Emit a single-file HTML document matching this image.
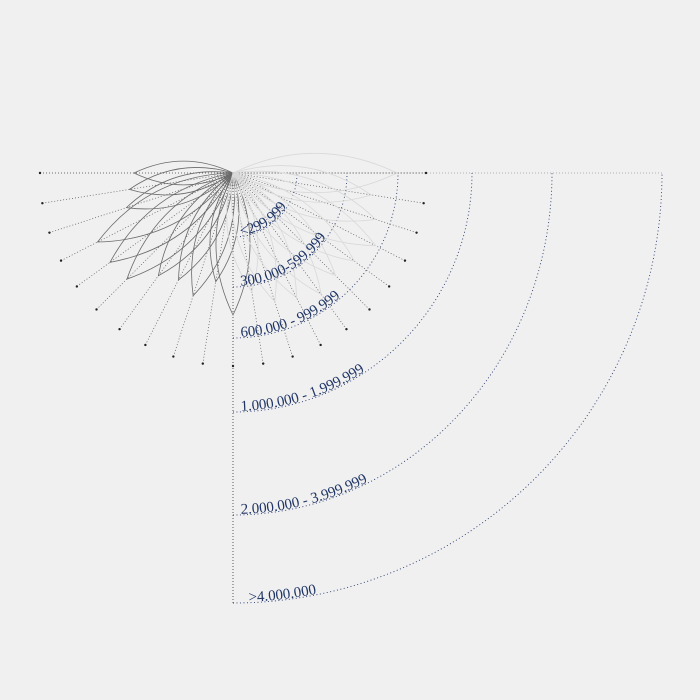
<!DOCTYPE html>
<html><head><meta charset="utf-8"><style>
html,body{margin:0;padding:0;background:#f0f0f0}
svg{display:block}
text{font-family:"Liberation Serif",serif;font-size:15px;fill:#1f3566}
</style></head><body>
<svg id="chart" width="700" height="700" viewBox="0 0 700 700">
<rect width="700" height="700" fill="#f0f0f0"/>
<g id="grid"></g><g id="spokes"></g><g id="petals"></g><g id="labels"></g>
</svg>
<script>
const bandLabels = ["<299.999","300.000-599.999","600.000 - 999.999","1.000.000 - 1.999.999","2.000.000 - 3.999.999",">4.000.000"];
const bandRadiiX = [64,114,165,239,319,429];
const bandRadiiY = [64,114,165,239,342,430];
const petalValues = [99,105,112,152,152,150,127,120,129,110,142,120,135,140,150,145,150,160,150,140,164];
const petalDark = [1,1,1,1,1,1,1,1,1,1,1,0,0,0,0,0,0,0,0,0,0];
const spokeLen = 193;

const NS="http://www.w3.org/2000/svg";
const cx=233, cy=173;
function el(t,a,p){const e=document.createElementNS(NS,t);for(const k in a)e.setAttribute(k,a[k]);p.appendChild(e);return e;}
function ang(i){return Math.PI - i*Math.PI/(petalValues.length-1);}
function pt(i,r){const a=ang(i);return [cx+r*Math.cos(a), cy+r*Math.sin(a)];}

const grid=document.getElementById('grid');
let h=el('line',{x1:40,y1:cy,x2:cx+bandRadiiX[bandRadiiX.length-1]+1,y2:cy,stroke:'#999','stroke-width':0.8,'stroke-dasharray':'1 2'},grid);


let v=el('line',{x1:cx,y1:cy,x2:cx,y2:cy+bandRadiiY[bandRadiiY.length-1]+1,stroke:'#333','stroke-width':0.8,'stroke-dasharray':'1 2'},grid);



const labels=document.getElementById('labels');
bandRadiiX.forEach((rx,i)=>{
  const ry=bandRadiiY[i];
  const d=`M ${cx} ${cy+ry} A ${rx} ${ry} 0 0 0 ${cx+rx} ${cy}`;
  const a=el('path',{id:'arc'+i,d:d,fill:'none',stroke:'#2a3a70','stroke-width':0.9,'stroke-dasharray':'1 2.5'},grid);
  
  
  const t=el('text',{dy:-1},labels);
  
  
  const tp=el('textPath',{href:'#arc'+i,startOffset:(i===5?16:8)},t);
  tp.textContent=bandLabels[i];
});

const spokes=document.getElementById('spokes');
const petals=document.getElementById('petals');
petalValues.forEach((val,i)=>{
  const [x,y]=pt(i,spokeLen);
  const s=el('line',{x1:cx,y1:cy,x2:x,y2:y,stroke:'#555','stroke-width':0.7,'stroke-dasharray':'1 2'},spokes);
  
  
  const dot=el('circle',{cx:x,cy:y,r:1.2,fill:'#222'},spokes);
  
  
  const a=ang(i);
  const [tx,ty]=pt(i,val);
  const mx=cx+Math.cos(a)*val/2, my=cy+Math.sin(a)*val/2;
  const nx=-Math.sin(a), ny=Math.cos(a), w=0.24*val;
  const d=`M ${cx} ${cy} Q ${mx+nx*w} ${my+ny*w} ${tx} ${ty} Q ${mx-nx*w} ${my-ny*w} ${cx} ${cy} Z`;
  const p=el('path',{d:d,fill:'none',stroke:petalDark[i]?'#6a6a6a':'#d8d8d8','stroke-width':0.8},petals);
  
  
});
</script>
</body></html>
